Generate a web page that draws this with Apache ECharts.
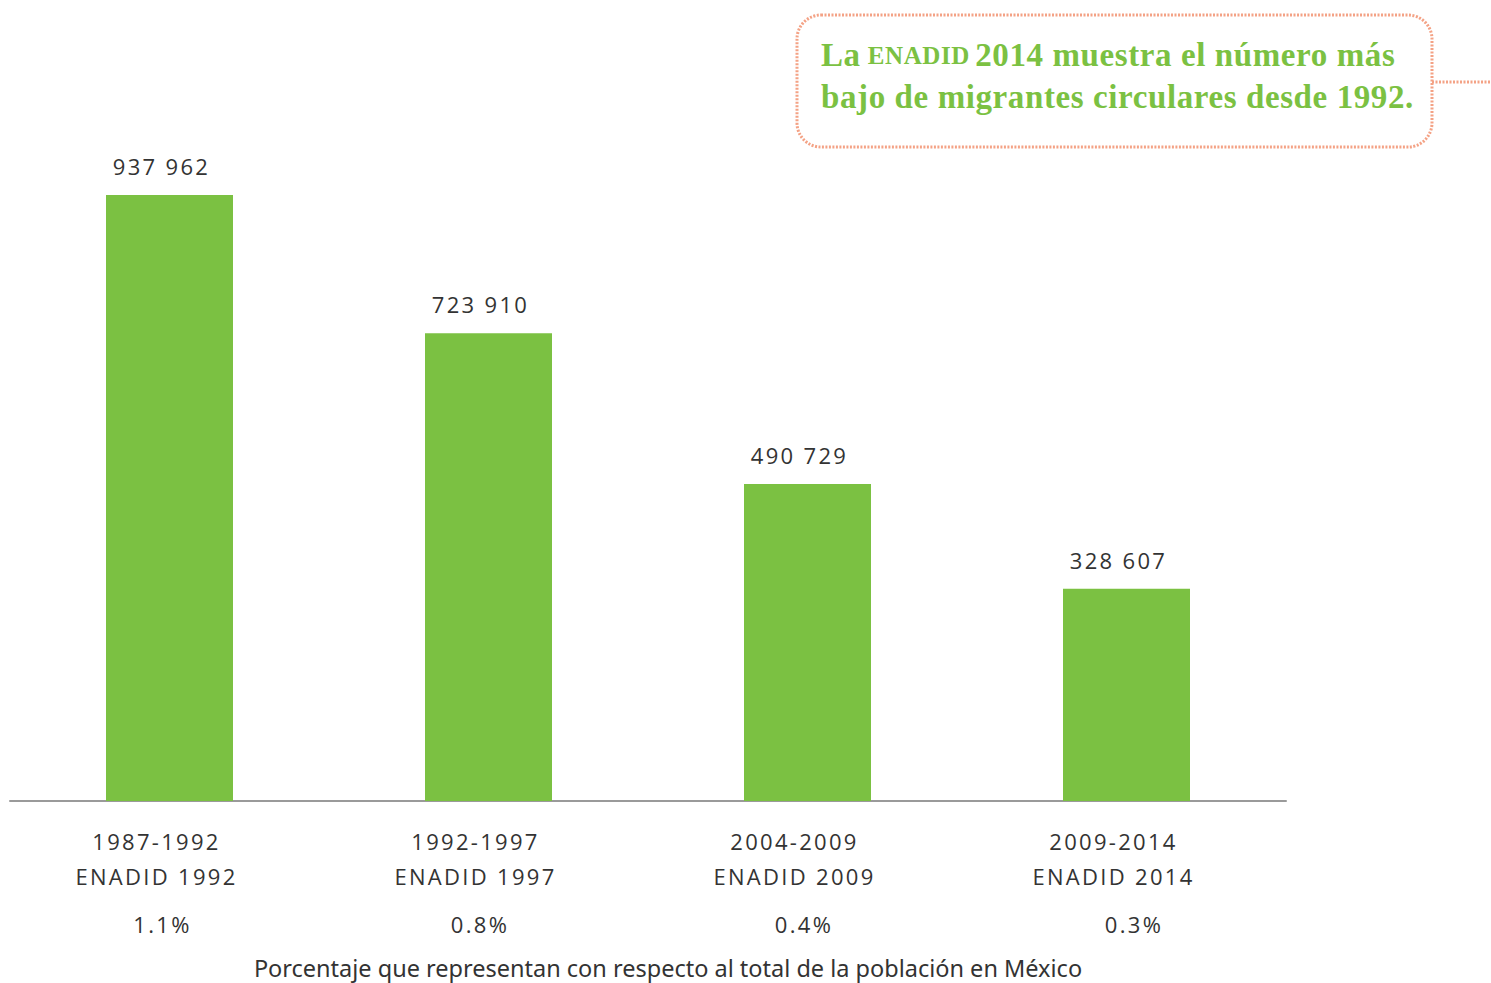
<!DOCTYPE html>
<html>
<head>
<meta charset="utf-8">
<script src="https://cdn.jsdelivr.net/npm/echarts@6/dist/echarts.min.js"></script>
<style>
  html, body { margin: 0; padding: 0; background: #ffffff; }
  #chart { width: 1491px; height: 983px; }
  /* tracked-out labels (the figures and period names) */
  #chart svg text[style*="Open Sans"], #chart svg tspan[style*="Open Sans"] { letter-spacing: 2.3px; }
  #chart svg text[style*="Liberation Serif"], #chart svg tspan[style*="Liberation Serif"] { letter-spacing: 0.6px; }
</style>
</head>
<body>
<div id="chart"></div>
<script>
// Circular migrants by survey period
const periods = ['1987-1992', '1992-1997', '2004-2009', '2009-2014'];
const surveys = ['ENADID 1992', 'ENADID 1997', 'ENADID 2009', 'ENADID 2014'];
const migrants = [937962, 723910, 490729, 328607];
const sharePct = ['1.1%', '0.8%', '0.4%', '0.3%'];

const green = '#7bc142';
const salmon = '#f4a285';
const textColor = '#333333';
const labelFont = 'Open Sans';

function spaced(n) {
  return String(n).replace(/\B(?=(\d{3})+(?!\d))/g, ' ');
}

const chart = echarts.init(document.getElementById('chart'), null, { renderer: 'svg' });

chart.setOption({
  animation: false,
  grid: { left: 10, right: 205, top: 155, bottom: 182, containLabel: false },
  xAxis: [
    {
      type: 'category',
      data: periods,
      axisLine: { show: true, lineStyle: { color: '#9a9a9a', width: 2 } },
      axisTick: { show: false },
      axisLabel: {
        interval: 0,
        margin: 22,
        fontFamily: labelFont,
        fontSize: 22,
        color: textColor,
        lineHeight: 35,
        padding: [0, 26, 0, 0],
        formatter: (v, i) => v + '\n' + surveys[i]
      }
    },
    {
      type: 'category',
      position: 'bottom',
      offset: 112,
      data: sharePct,
      axisLine: { show: false },
      axisTick: { show: false },
      axisLabel: {
        interval: 0,
        margin: 0,
        fontFamily: labelFont,
        fontSize: 22,
        color: textColor,
        formatter: (v, i) => '{p' + i + '|' + v + '}',
        rich: {
          p0: { padding: [0, 14, 0, 0] },
          p1: { padding: [0, 17, 0, 0] },
          p2: { padding: [0, 7, 0, 0] },
          p3: { padding: [0, 0, 0, 15] }
        }
      }
    }
  ],
  yAxis: {
    type: 'value',
    min: 0,
    max: 1000000,
    show: false,
    splitLine: { show: false }
  },
  series: [{
    type: 'bar',
    data: migrants,
    barWidth: 127,
    itemStyle: { color: green },
    label: {
      show: true,
      position: 'top',
      distance: 18,
      offset: [-8, 0],
      fontFamily: labelFont,
      fontSize: 22,
      color: textColor,
      formatter: p => spaced(p.value)
    }
  }],
  graphic: [
    {
      type: 'text',
      x: 668,
      y: 968,
      style: {
        text: 'Porcentaje que representan con respecto al total de la población en México',
        font: '23.5px "Noto Sans"',
        fill: textColor,
        align: 'center',
        verticalAlign: 'middle'
      }
    },
    {
      type: 'rect',
      shape: { x: 797, y: 15, width: 635, height: 132, r: 24 },
      style: { fill: 'none', stroke: salmon, lineWidth: 3, lineDash: [2, 1.5] }
    },
    {
      type: 'line',
      shape: { x1: 1432, y1: 82, x2: 1491, y2: 82 },
      style: { stroke: salmon, lineWidth: 3, lineDash: [2, 1.5] }
    },
    {
      type: 'text',
      x: 821,
      y: 34,
      style: {
        text: '{t|La }{sc|ENADID}{t| 2014 muestra el número más}\n{t|bajo de migrantes circulares desde 1992.}',
        fill: green,
        rich: {
          t: { fontFamily: 'Liberation Serif', fontWeight: 'bold', fontSize: 33, lineHeight: 42, fill: green },
          sc: { fontFamily: 'Liberation Serif', fontWeight: 'bold', fontSize: 25, lineHeight: 42, fill: green }
        }
      }
    }
  ]
});
</script>
</body>
</html>
